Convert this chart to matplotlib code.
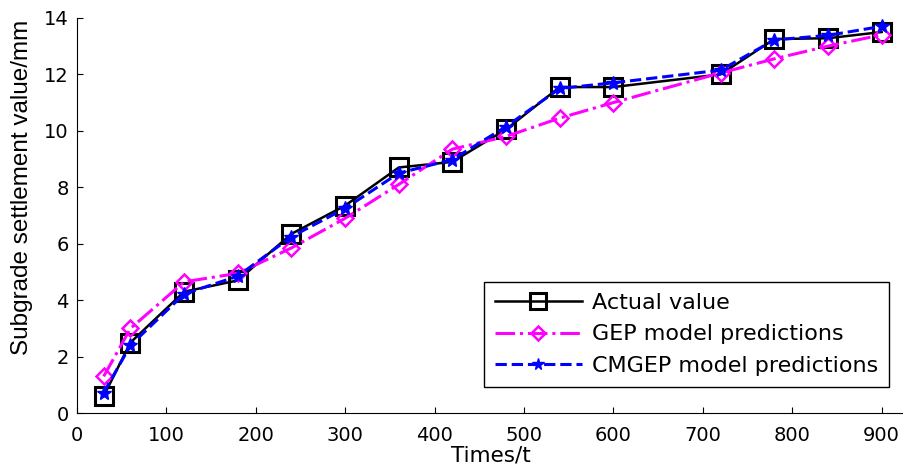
import matplotlib
matplotlib.use('Agg')
import matplotlib.pyplot as plt

plt.rcParams['font.family'] = ['DejaVu Sans']

times = [30, 60, 120, 180, 240, 300, 360, 420, 480, 540, 600, 720, 780, 840, 900]
actual = [0.6, 2.5, 4.3, 4.7, 6.35, 7.35, 8.7, 8.9, 10.05, 11.55, 11.55, 12.0, 13.25, 13.28, 13.5]
gep = [1.3, 3.0, 4.65, 4.95, 5.85, 6.9, 8.1, 9.35, 9.8, 10.45, 11.0, 12.05, 12.55, 13.0, 13.4]
cmgep = [0.72, 2.4, 4.22, 4.85, 6.25, 7.25, 8.5, 8.98, 10.15, 11.5, 11.7, 12.15, 13.22, 13.38, 13.7]

fig = plt.figure(figsize=(9.04, 4.71), dpi=100)
ax = fig.add_axes([0.085, 0.123, 0.915, 0.839])

ax.plot(times, actual, color='black', linestyle='-', linewidth=1.8,
        marker='s', markersize=13, markerfacecolor='none',
        markeredgecolor='black', markeredgewidth=2.2, label='Actual value')
ax.plot(times, gep, color='#ff00ff', linestyle='-.', linewidth=2.2,
        marker='D', markersize=8, markerfacecolor='none',
        markeredgecolor='#ff00ff', markeredgewidth=1.8,
        label='GEP model predictions')
ax.plot(times, cmgep, color='#0000ff', linestyle='--', linewidth=2.2,
        marker='*', markersize=10, markerfacecolor='#0000ff',
        markeredgecolor='#0000ff', label='CMGEP model predictions')

ax.set_xlim(0, 925)
ax.set_ylim(0, 14)
ax.set_xticks(range(0, 901, 100))
ax.set_yticks(range(0, 15, 2))
ax.spines['top'].set_visible(False)
ax.spines['right'].set_visible(False)
ax.tick_params(direction='in', length=4, labelsize=14)
ax.tick_params(axis='x', pad=9)
ax.tick_params(axis='y', pad=6)
ax.set_xlabel('Times/t', fontsize=15.5, labelpad=1)
ax.set_ylabel('Subgrade settlement value/mm', fontsize=17.5,
              family=['Liberation Sans', 'DejaVu Sans'])
ax.yaxis.set_label_coords(-0.053, 0.572)

leg = ax.legend(loc='lower right', bbox_to_anchor=(0.982, 0.066), fontsize=16,
                handlelength=3.9, handletextpad=0.45, markerscale=0.85,
                fancybox=False, framealpha=1, edgecolor='black',
                borderpad=0.5, labelspacing=0.52, borderaxespad=0)
leg.get_frame().set_linewidth(1.0)

plt.savefig('out.png', dpi=100)
